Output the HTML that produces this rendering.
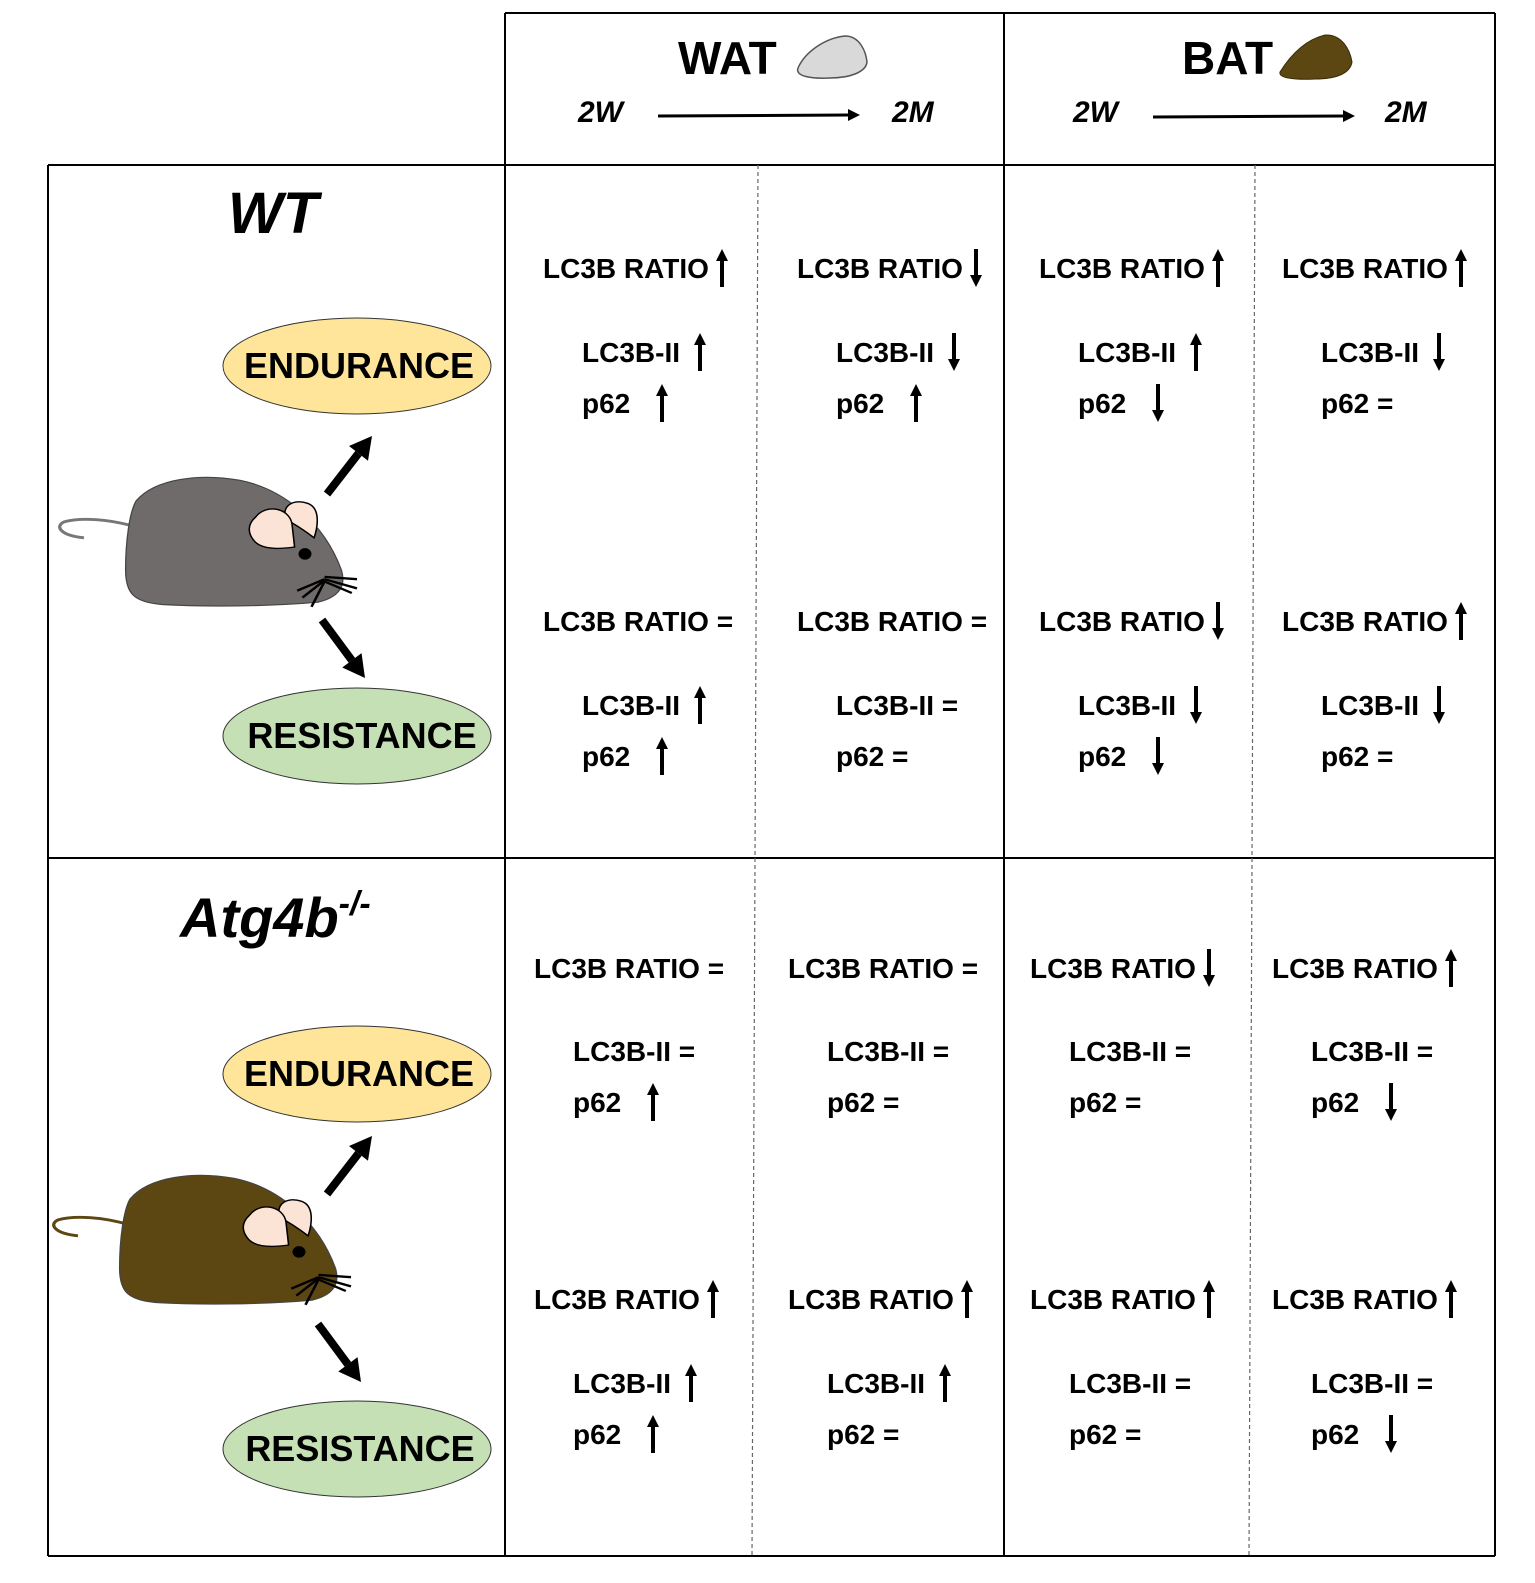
<!DOCTYPE html>
<html><head><meta charset="utf-8"><style>
html,body{margin:0;padding:0;background:#fff}
svg{display:block}
text{font-family:"Liberation Sans",sans-serif;font-weight:bold;fill:#000}
</style></head><body>
<svg id="fig" width="1535" height="1583" viewBox="0 0 1535 1583" xmlns="http://www.w3.org/2000/svg">
<g stroke="#000" stroke-width="2" fill="none">
  <line x1="505" y1="13" x2="1495" y2="13"/>
  <line x1="48" y1="165" x2="1495" y2="165"/>
  <line x1="48" y1="858" x2="1495" y2="858"/>
  <line x1="48" y1="1556" x2="1495" y2="1556"/>
  <line x1="48" y1="165" x2="48" y2="1556"/>
  <line x1="505" y1="13" x2="505" y2="1556"/>
  <line x1="1004" y1="13" x2="1004" y2="1556"/>
  <line x1="1495" y1="13" x2="1495" y2="1556"/>
  <line x1="758" y1="165" x2="752" y2="1556" stroke="#666" stroke-width="1.2" stroke-dasharray="4,3"/>
  <line x1="1255" y1="165" x2="1249" y2="1556" stroke="#666" stroke-width="1.2" stroke-dasharray="4,3"/>
</g>
<g>
  <text x="678" y="74" font-size="46">WAT</text>
  <path d="M798 68 C805 52 825 38 845 36 C860 36 866 52 867 62 C866 72 850 78 830 78 C810 79 795 76 798 68Z" fill="#d9d9d9" stroke="#555" stroke-width="1.5"/>
  <text x="578" y="122" font-size="30" font-style="italic">2W</text>
  <line x1="658" y1="116" x2="850" y2="115" stroke="#000" stroke-width="3"/>
  <polygon points="860,115 848,109 848,121" fill="#000"/>
  <text x="892" y="122" font-size="30" font-style="italic">2M</text>
  <text x="1182" y="74" font-size="46">BAT</text>
  <path d="M1280 72 C1290 56 1305 40 1325 35 C1342 34 1350 50 1352 62 C1350 74 1335 79 1315 79 C1295 80 1278 78 1280 72Z" fill="#5c4713" stroke="#3a2c08" stroke-width="1"/>
  <text x="1073" y="122" font-size="30" font-style="italic">2W</text>
  <line x1="1153" y1="117" x2="1345" y2="116" stroke="#000" stroke-width="3"/>
  <polygon points="1355,116 1343,110 1343,122" fill="#000"/>
  <text x="1385" y="122" font-size="30" font-style="italic">2M</text>
</g>
<g>
  <text x="228" y="233" font-size="58" font-style="italic">WT</text>
  <ellipse cx="357" cy="366" rx="134" ry="48" fill="#fee599" stroke="#333" stroke-width="1"/>
  <text x="359" y="378" font-size="36" text-anchor="middle">ENDURANCE</text>
  <ellipse cx="357" cy="736" rx="134" ry="48" fill="#c5e0b4" stroke="#333" stroke-width="1"/>
  <text x="362" y="748" font-size="36" text-anchor="middle">RESISTANCE</text>
</g>
<g>
  <text x="180" y="937" font-size="56" font-style="italic">Atg4b<tspan font-size="34" dy="-22">-/-</tspan></text>
  <ellipse cx="357" cy="1074" rx="134" ry="48" fill="#fee599" stroke="#333" stroke-width="1"/>
  <text x="359" y="1086" font-size="36" text-anchor="middle">ENDURANCE</text>
  <ellipse cx="357" cy="1449" rx="134" ry="48" fill="#c5e0b4" stroke="#333" stroke-width="1"/>
  <text x="360" y="1461" font-size="36" text-anchor="middle">RESISTANCE</text>
</g>
<g id="mice"></g>
<g id="cells"></g>
</svg>
<script>
// cell values: u = up, d = down, e = equal; order [LC3B ratio, LC3B-II, p62] per column
const wtEndurance = [["u","u","u"],["d","d","u"],["u","u","d"],["u","d","e"]];
const wtResistance = [["e","u","u"],["e","e","e"],["d","d","d"],["u","d","e"]];
const atgEndurance = [["e","e","u"],["e","e","e"],["d","e","e"],["u","e","d"]];
const atgResistance = [["u","u","u"],["u","u","e"],["u","e","e"],["u","e","d"]];
const rowLabels = ["LC3B RATIO","LC3B-II","p62"];

const NS="http://www.w3.org/2000/svg";
function mk(tag,attrs,parent){const e=document.createElementNS(NS,tag);for(const k in attrs)e.setAttribute(k,attrs[k]);parent.appendChild(e);return e;}
const cells=document.getElementById('cells');

function arrow(g,x,cy,dir){
  const top=cy-19,bot=cy+19;
  const a=mk('g',{},g);
  
  
  if(dir==='u'){
    mk('line',{x1:x,y1:top+10,x2:x,y2:bot,stroke:'#000','stroke-width':4},a);
    mk('polygon',{points:`${x},${top} ${x-6},${top+12} ${x+6},${top+12}`,fill:'#000'},a);
  } else {
    mk('line',{x1:x,y1:top,x2:x,y2:bot-10,stroke:'#000','stroke-width':4},a);
    mk('polygon',{points:`${x},${bot} ${x-6},${bot-12} ${x+6},${bot-12}`,fill:'#000'},a);
  }
}

const blocks=[
  {data:wtEndurance, ys:[268,352,403], xs:[543,797,1039,1282], name:'wt-endurance'},
  {data:wtResistance, ys:[621,705,756], xs:[543,797,1039,1282], name:'wt-resistance'},
  {data:atgEndurance, ys:[968,1051,1102], xs:[534,788,1030,1272], name:'atg4b-endurance'},
  {data:atgResistance, ys:[1299,1383,1434], xs:[534,788,1030,1272], name:'atg4b-resistance'}
];
const ratioW=165, indent=39;
blocks.forEach(b=>{
  b.data.forEach((col,ci)=>{
    const g=mk('g',{},cells);
    
    
    col.forEach((v,ri)=>{
      const x = ri===0 ? b.xs[ci] : b.xs[ci]+indent;
      const cy=b.ys[ri];
      const t=mk('text',{x:x,y:cy+10,'font-size':28},g);
      
      
      let label=rowLabels[ri];
      if(v==='e') label += ' =';
      t.textContent=label;
      if(v!=='e'){
        const ax = ri===0 ? x+ratioW+14 : ri===1 ? x+118 : x+80;
        arrow(g,ax,cy,v);
      }
    });
  });
});

// mice
const mice=document.getElementById('mice');
function mouse(ox,oy,color,tail,name){
  const g=mk('g',{transform:`translate(${ox},${oy}) scale(1.3,1.15)`},mice);
  
  
  mk('path',{d:'M58 42 C40 36 18 34 5 38 C-3 42 2 50 20 52',fill:'none',stroke:tail,'stroke-width':2.5},g);
  mk('path',{d:'M60 20 C75 0 110 -4 140 2 C175 10 205 40 218 80 C222 95 215 104 200 108 C160 112 110 112 80 110 C58 108 52 100 52 80 C52 55 55 30 60 20Z',fill:color,stroke:'#444','stroke-width':1},g);
  mk('path',{d:'M175 36 C172 23 182 18 192 22 C202 26 200 42 197 52 C190 46 182 40 175 36Z',fill:'#fbe4d5',stroke:'#000','stroke-width':1.2},g);
  mk('path',{d:'M152 34 C160 22 178 26 180 40 L182 60 C170 62 158 62 152 56 C145 48 146 40 152 34Z',fill:'#fbe4d5',stroke:'#000','stroke-width':1.2},g);
  mk('circle',{cx:190,cy:66,r:5,fill:'#000'},g);
  const w=mk('g',{stroke:'#000','stroke-width':2},g);
  [[205,86,230,88],[205,88,230,96],[205,90,226,100],[205,88,184,98],[205,89,188,104],[205,90,195,112]].forEach(l=>mk('line',{x1:l[0],y1:l[1],x2:l[2],y2:l[3]},w));
}
mouse(58,478,'#6f6b6b','#777','wt-mouse');
mouse(52,1176,'#5c4713','#5c4713','atg4b-mouse');

function bigArrow(x1,y1,x2,y2,name){
  const g=mk('g',{},mice);
  
  
  const dx=x2-x1,dy=y2-y1,L=Math.hypot(dx,dy),ux=dx/L,uy=dy/L;
  const bx=x2-ux*22,by=y2-uy*22;
  mk('line',{x1:x1,y1:y1,x2:bx,y2:by,stroke:'#000','stroke-width':8},g);
  mk('polygon',{points:`${x2},${y2} ${bx-uy*12},${by+ux*12} ${bx+uy*12},${by-ux*12}`,fill:'#000'},g);
}
bigArrow(327,494,372,436,'wt-endurance-arrow');
bigArrow(322,620,365,678,'wt-resistance-arrow');
bigArrow(327,1194,372,1136,'atg4b-endurance-arrow');
bigArrow(318,1324,361,1382,'atg4b-resistance-arrow');
</script>
</body></html>
